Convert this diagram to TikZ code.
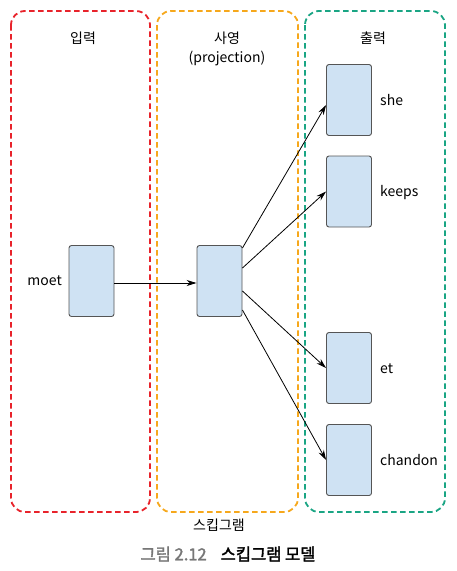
\documentclass[tikz,border=0pt]{standalone}
\usepackage{fontspec}
\setmainfont{Noto Sans CJK KR}
\newfontfamily\krbold[FakeBold=2]{Noto Sans CJK KR}
\usetikzlibrary{arrows.meta}
\definecolor{cred}{HTML}{E8232B}
\definecolor{corange}{HTML}{F6A81C}
\definecolor{cteal}{HTML}{1AA584}
\definecolor{boxfill}{HTML}{CFE2F3}
\definecolor{boxline}{HTML}{555555}
\definecolor{capgray}{HTML}{777777}
\tikzset{
  container/.style={line width=1.8pt, dash pattern=on 5.5pt off 3.5pt, rounded corners=14pt},
  vecbox/.style={draw=boxline, fill=boxfill, line width=0.9pt, rounded corners=2.5pt, minimum width=45pt, minimum height=71pt, inner sep=0pt},
  lbl/.style={font=\fontsize{14}{16}\selectfont, inner sep=0pt},
  conn/.style={-{Stealth[length=10pt,width=6pt]}, line width=0.8pt, black}
}
\begin{document}
\begin{tikzpicture}[x=1pt,y=-1pt]
\useasboundingbox (0,0) rectangle (457,571);
\draw[container, cred] (11,11) rectangle (150,512);
\draw[container, corange] (157,11) rectangle (298,512);
\draw[container, cteal] (305,11) rectangle (445,512);
\node[lbl] (t1) at (83,38) {입력};
\node[lbl] (t2) at (227,38) {사영};
\node[lbl] (t2b) at (227,58) {(projection)};
\node[lbl] (t3) at (373,38) {출력};
\node[vecbox] (input) at (91.5,281) {};
\node[vecbox] (proj) at (219.5,281) {};
\node[vecbox] (o1) at (349,100) {};
\node[vecbox] (o2) at (349,191.5) {};
\node[vecbox] (o3) at (349,368) {};
\node[vecbox] (o4) at (349,460) {};
\node[lbl, anchor=east] (lm) at (62,281) {moet};
\node[lbl, anchor=west] (l1) at (380,100) {she};
\node[lbl, anchor=west] (l2) at (380,193) {keeps};
\node[lbl, anchor=west] (l3) at (380,369) {et};
\node[lbl, anchor=west] (l4) at (380,460) {chandon};
\draw[conn] ([yshift=-2pt]input.east) -- ([yshift=-2pt]proj.west);
\draw[conn] ([yshift=33pt]proj.east) -- ([yshift=-5pt]o1.west);
\draw[conn] ([yshift=13pt]proj.east) -- (o2.west);
\draw[conn] ([yshift=-10pt]proj.east) -- (o3.west);
\draw[conn] ([yshift=-29pt]proj.east) -- (o4.west);
\node[lbl] (sk) at (219,525) {스킵그램};
\node[inner sep=0pt, font=\fontsize{16.5}{18}\selectfont] (cap) at (228,554) {\textcolor{capgray}{\krbold 그림 2.12}\hspace{14pt}{\krbold 스킵그램 모델}};
\end{tikzpicture}
\end{document}
